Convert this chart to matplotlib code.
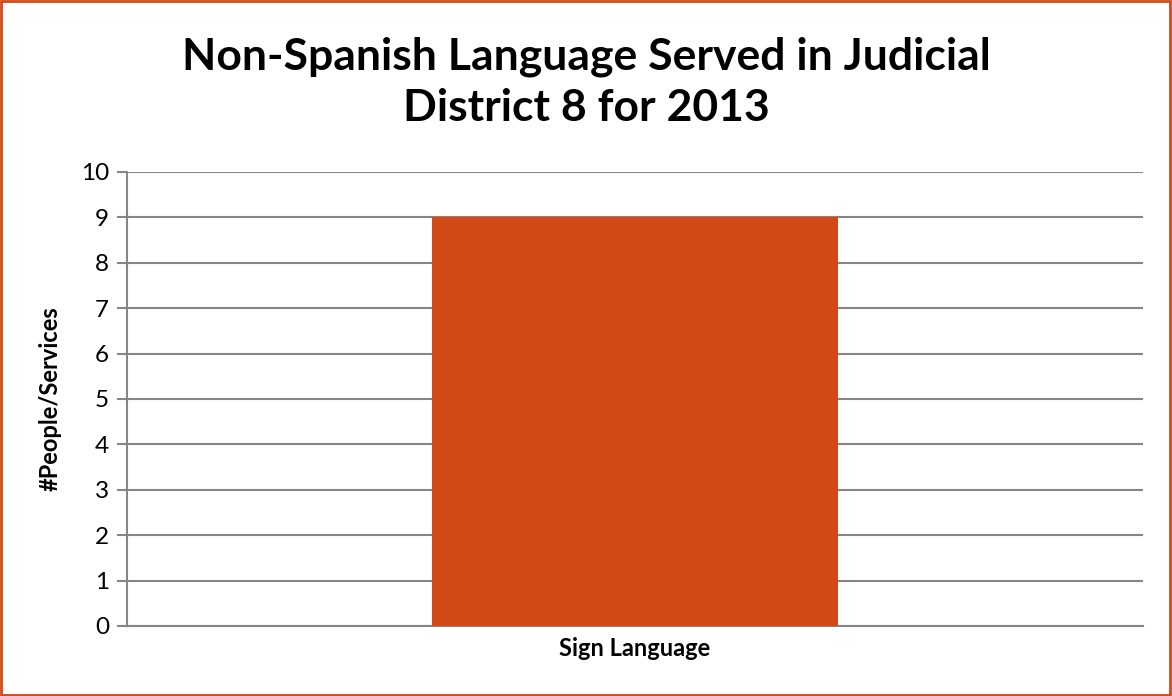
import matplotlib.pyplot as plt
from matplotlib.patches import Rectangle

categories = ["Sign Language"]
values = [9]
yticks = list(range(0, 11))

plt.rcParams['font.family'] = ['Lato', 'DejaVu Sans']

fig = plt.figure(figsize=(11.72, 6.96), dpi=100)
ax = fig.add_axes([0.1084, 0.1006, 0.8669, 0.6523])

ax.bar(range(len(categories)), values, width=0.4, color='#D34817', zorder=3)
ax.set_xlim(-0.5, len(categories) - 0.5)
ax.set_ylim(0, 10)
ax.set_yticks(yticks)
ax.set_yticklabels([str(t) for t in yticks], fontsize=17.5)
ax.set_xticks(range(len(categories)))
ax.set_xticklabels(categories, fontsize=17, fontweight='bold')
ax.tick_params(axis='x', length=0, pad=8)
ax.tick_params(axis='y', length=7, width=1.5, color='#868686', pad=6)

ax.grid(axis='y', color='#868686', linewidth=1.5, zorder=0)
for side in ['top', 'right']:
    ax.spines[side].set_visible(False)
for side in ['left', 'bottom']:
    ax.spines[side].set_color('#868686')
    ax.spines[side].set_linewidth(1.5)

ax.set_ylabel("#People/Services", fontsize=17, fontweight='bold', labelpad=14)

fig.text(0.5, 0.882, "Non-Spanish Language Served in Judicial\nDistrict 8 for 2013",
         ha='center', va='center', fontsize=32, fontweight='bold', linespacing=1.32)

fig.patches.append(Rectangle((0.001, 0.002), 0.997, 0.996, transform=fig.transFigure,
                             fill=False, edgecolor='#D34817', linewidth=2))

plt.savefig('out.png', dpi=100)
